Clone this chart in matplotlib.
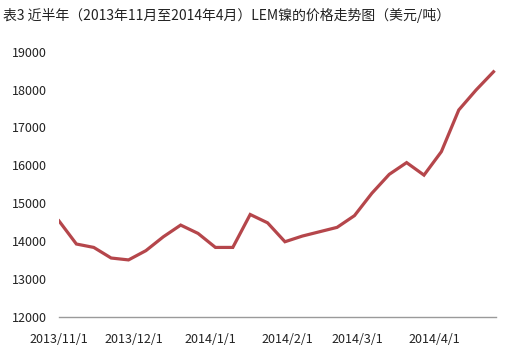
import datetime as dt
import matplotlib
matplotlib.use('Agg')
import matplotlib.pyplot as plt
import matplotlib.dates as mdates

plt.rcParams['font.family'] = ['Noto Sans CJK SC', 'DejaVu Sans']

# 每周价格（美元/吨），从2013/11/1开始
start = dt.date(2013, 11, 1)
prices = [14530, 13920, 13830, 13550, 13500, 13745, 14110, 14420, 14200, 13830,
          13830, 14700, 14480, 13980, 14130, 14245, 14360, 14670, 15260, 15760,
          16070, 15740, 16360, 17460, 17990, 18470]
dates = [start + dt.timedelta(days=7 * i) for i in range(len(prices))]
tick_dates = [dt.date(2013, 11, 1), dt.date(2013, 12, 1), dt.date(2014, 1, 1),
              dt.date(2014, 2, 1), dt.date(2014, 3, 1), dt.date(2014, 4, 1)]
yticks = [12000, 13000, 14000, 15000, 16000, 17000, 18000, 19000]
title = '表3 近半年（2013年11月至2014年4月）LEM镍的价格走势图（美元/吨）'

fig = plt.figure(figsize=(5.05, 3.5), dpi=100)
ax = fig.add_axes([59 / 505, 33.3 / 350, 437 / 505, 265 / 350])
ax.plot(dates, prices, color='#b5464b', lw=2.3, solid_joinstyle='miter')

ax.set_xlim(start - dt.timedelta(days=0.4), start + dt.timedelta(days=176.5))
ax.set_ylim(12000, 19000)
ax.set_yticks(yticks)
ax.set_xticks(tick_dates)
ax.xaxis.set_major_formatter(mdates.DateFormatter('%Y/%-m/%-d'))

for s in ['top', 'right', 'left']:
    ax.spines[s].set_visible(False)
ax.spines['bottom'].set_color('#9a9a9a')
ax.spines['bottom'].set_linewidth(1)
ax.tick_params(axis='both', length=0, labelsize=9, colors='#222222')
ax.tick_params(axis='y', pad=9)
ax.tick_params(axis='x', pad=12)

fig.text(3 / 505, 1 - 15 / 350, title, fontsize=10, va='center', ha='left', color='#222222')

fig.savefig('out.png', dpi=100)
